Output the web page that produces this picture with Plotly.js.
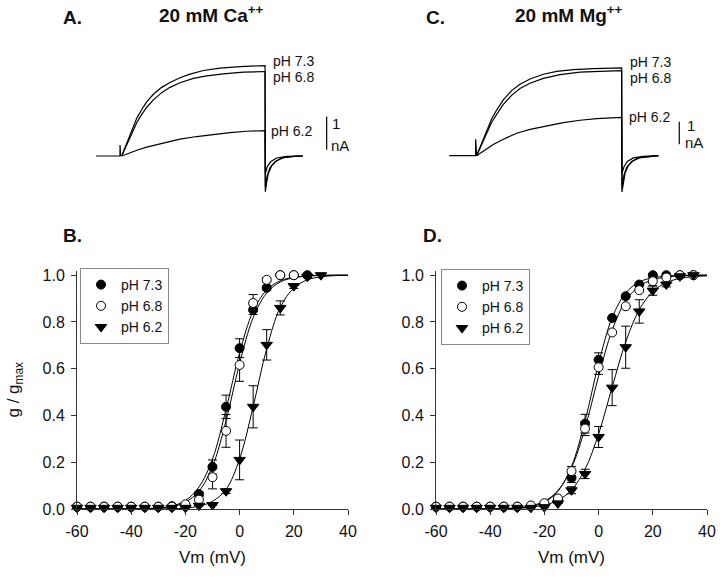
<!DOCTYPE html>
<html>
<head>
<meta charset="utf-8">
<script src="https://cdn.plot.ly/plotly-3.0.1.min.js"></script>
<style>html,body{margin:0;padding:0;background:#fff;}#chart{width:720px;height:578px;}</style>
</head>
<body>
<div id="chart"></div>
<script>
// ---------- Panels B & D: g/gmax vs Vm ----------
const vm = [-60,-55,-50,-45,-40,-35,-30,-25,-20,-15,-10,-5,0,5,10,15,20,25,30,35,40];
const xTickVals = [-60,-40,-20,0,20,40];
const xTickText = ['-60','-40','-20','0','20','40'];
const yTickVals = [0,0.2,0.4,0.6,0.8,1.0];
const yTickText = ['0.0','0.2','0.4','0.6','0.8','1.0'];

// Panel B (20 mM Ca++) data points
const vB73 = [-60,-55,-50,-45,-40,-35,-30,-25,-20,-15,-10,-5,0,5,10,15,20,25];
const gB73 = [0.01,0.01,0.01,0.01,0.01,0.01,0.01,0.012,0.015,0.064,0.18,0.437,0.688,0.852,0.946,1.0,1.0,1.0];
const eB73 = [0,0,0,0,0,0,0,0,0,0.01,0.03,0.05,0.04,0.02,0.01,0,0,0];
const vB68 = [-60,-55,-50,-45,-40,-35,-30,-25,-20,-15,-10,-5,0,5,10,15,20];
const gB68 = [0.01,0.01,0.01,0.01,0.01,0.01,0.01,0.01,0.02,0.04,0.136,0.334,0.616,0.881,0.98,1.0,1.0];
const eB68 = [0,0,0,0,0,0,0,0,0,0.02,0.05,0.07,0.07,0.036,0.01,0,0];
const vB62 = [-60,-55,-50,-45,-40,-35,-30,-25,-20,-15,-10,-5,0,5,10,15,20,25,30];
const gB62 = [0.005,0.005,0.005,0.005,0.005,0.005,0.005,0.005,0.005,0.014,0.017,0.076,0.21,0.437,0.702,0.86,0.953,0.993,1.0];
const eB62 = [0,0,0,0,0,0,0,0,0,0,0,0.01,0.085,0.09,0.065,0.03,0.01,0,0];
// fitted curves
const fB73 = [0,0,0,0,0.001,0.002,0.005,0.013,0.036,0.094,0.214,0.426,0.668,0.846,0.937,0.976,0.991,0.997,0.999,1,1];
const fB68 = [0,0,0,0,0,0.001,0.004,0.011,0.029,0.076,0.182,0.377,0.622,0.818,0.924,0.971,0.989,0.996,0.999,1,1];
const fB62 = [0,0,0,0,0,0,0,0.001,0.004,0.012,0.033,0.084,0.214,0.438,0.686,0.862,0.945,0.98,0.993,0.998,0.999];

// Panel D (20 mM Mg++) data points
const vD73 = [-60,-55,-50,-45,-40,-35,-30,-25,-20,-15,-10,-5,0,5,10,15,20,25,30,35];
const gD73 = [0.01,0.01,0.01,0.01,0.01,0.01,0.01,0.012,0.02,0.043,0.133,0.365,0.638,0.817,0.91,0.96,1.0,1.0,1.0,1.0];
const eD73 = [0,0,0,0,0,0,0,0,0,0,0.02,0.04,0.03,0,0,0,0,0,0,0];
const vD68 = [-60,-55,-50,-45,-40,-35,-30,-25,-20,-15,-10,-5,0,5,10,15,20,25,30,35];
const gD68 = [0.01,0.01,0.01,0.01,0.01,0.01,0.01,0.015,0.025,0.045,0.162,0.344,0.606,0.755,0.867,0.936,0.974,0.99,1.0,1.0];
const eD68 = [0,0,0,0,0,0,0,0,0,0,0.02,0.03,0.03,0,0,0,0.02,0,0,0];
const vD62 = [-60,-55,-50,-45,-40,-35,-30,-25,-20,-15,-10,-5,0,5,10,15,20,25,30,35];
const gD62 = [0.005,0.005,0.005,0.005,0.005,0.005,0.005,0.005,0.008,0.024,0.08,0.15,0.308,0.519,0.692,0.845,0.934,0.96,0.995,1.0];
const eD62 = [0,0,0,0,0,0,0,0,0,0,0.015,0.02,0.045,0.077,0.09,0.05,0.02,0.01,0,0];
// fitted curves
const fD73 = [0,0,0,0,0,0.001,0.004,0.011,0.029,0.076,0.182,0.377,0.622,0.818,0.924,0.971,0.989,0.996,0.999,1,1];
const fD68 = [0,0,0,0,0,0.002,0.006,0.014,0.033,0.079,0.176,0.346,0.568,0.765,0.89,0.953,0.98,0.992,0.997,0.999,1];
const fD62 = [0,0,0,0,0,0.001,0.003,0.007,0.017,0.037,0.082,0.17,0.321,0.521,0.714,0.852,0.93,0.968,0.986,0.994,0.997];

// ---------- Panels A & C: current traces (time in ms, current in nA) ----------
const capA_t = [-17.9,-1.2,-1.15,-0.8,0];
const capA_I = [0,0,0.33,0.03,0];
const a73_t = [0,3.5,7.0,10.5,14.0,17.4,22.1,27.9,33.7,40.7,47.7,57.0,68.6,82.6,100,100.2,101.2,102.3,104.7,108.1,112.8,119.8,126.3];
const a73_I = [0,0.38,0.77,1.14,1.41,1.64,1.87,2.08,2.23,2.37,2.48,2.59,2.66,2.71,2.74,-1.08,-0.78,-0.53,-0.29,-0.14,-0.05,-0.01,0];
const a68_t = [0,3.5,7.0,10.5,14.0,17.4,22.1,27.9,33.7,40.7,50.0,59.3,70.9,84.9,100,100.2,101.6,103.5,107.0,111.6,119.8,126.3];
const a68_I = [0,0.33,0.69,1.01,1.26,1.47,1.70,1.92,2.08,2.22,2.35,2.43,2.49,2.54,2.56,-0.93,-0.58,-0.35,-0.17,-0.06,-0.01,0];
const a62_t = [0,5.8,11.6,17.4,29.1,40.7,52.3,64.0,75.6,87.2,100,100.2,101.6,103.9,108.1,115.1,126.3];
const a62_I = [0,0.10,0.19,0.27,0.40,0.51,0.59,0.66,0.71,0.75,0.77,-0.53,-0.32,-0.17,-0.06,-0.01,0];
const scaleA_t = [143,143];
const scaleA_I = [0.19,1.19];

const capC_t = [-18.9,-0.7,-0.65,-0.3,0];
const capC_I = [0,0,0.72,0.05,0];
const c73_t = [0,3.4,6.9,10.3,13.8,18.4,24.1,29.9,36.8,46.0,55.2,66.7,80.5,100,100.2,101.1,102.3,104.6,108.0,112.6,119.5,125.3];
const c73_I = [0,0.54,1.10,1.62,2.01,2.46,2.87,3.15,3.38,3.59,3.72,3.79,3.84,3.87,-1.60,-1.15,-0.78,-0.44,-0.22,-0.09,-0.03,0];
const c68_t = [0,3.4,6.9,10.3,13.8,18.4,24.1,29.9,36.8,46.0,57.5,71.3,85.1,100,100.2,101.6,103.4,106.9,111.5,119.5,125.3];
const c68_I = [0,0.47,0.99,1.46,1.82,2.26,2.66,2.96,3.19,3.41,3.57,3.68,3.72,3.75,-1.37,-0.85,-0.53,-0.26,-0.10,-0.03,0];
const c62_t = [0,5.7,11.5,18.4,27.6,36.8,48.3,59.8,71.3,82.8,100,100.2,101.6,103.9,108.0,114.9,125.3];
const c62_I = [0,0.25,0.49,0.72,0.99,1.16,1.32,1.46,1.56,1.63,1.69,-0.78,-0.49,-0.26,-0.10,-0.03,0];
const scaleC_t = [139.7,139.7];
const scaleC_I = [0.5,1.5];

const seriesNames = ['pH 7.3','pH 6.8','pH 6.2'];
const FONT = 'Arial, "Liberation Sans", sans-serif';

const traces = [];
function fit(x, y, xa, ya){
  traces.push({x:x, y:y, xaxis:xa, yaxis:ya, mode:'lines', line:{color:'#000', width:1, shape:'spline'}, showlegend:false, hoverinfo:'skip'});
}
function pts(x, y, e, name, sym, fill, xa, ya, leg){
  traces.push({x:x, y:y, xaxis:xa, yaxis:ya, mode:'markers', name:name, legend:leg, cliponaxis:false,
    marker:{symbol:sym, size:(sym==='triangle-down'?10:9), color:fill, line:{color:'#000', width:1}},
    error_y:{type:'data', array:e, visible:true, color:'#000', thickness:1, width:4.5}});
}
// Panel B
fit(vm, fB73, 'x', 'y'); fit(vm, fB68, 'x', 'y'); fit(vm, fB62, 'x', 'y');
pts(vB73, gB73, eB73, seriesNames[0], 'circle', '#000', 'x', 'y', 'legend');
pts(vB68, gB68, eB68, seriesNames[1], 'circle', '#fff', 'x', 'y', 'legend');
pts(vB62, gB62, eB62, seriesNames[2], 'triangle-down', '#000', 'x', 'y', 'legend');
// Panel D
fit(vm, fD73, 'x2', 'y2'); fit(vm, fD68, 'x2', 'y2'); fit(vm, fD62, 'x2', 'y2');
pts(vD73, gD73, eD73, seriesNames[0], 'circle', '#000', 'x2', 'y2', 'legend2');
pts(vD68, gD68, eD68, seriesNames[1], 'circle', '#fff', 'x2', 'y2', 'legend2');
pts(vD62, gD62, eD62, seriesNames[2], 'triangle-down', '#000', 'x2', 'y2', 'legend2');

function tr(x, y, xa, ya){
  traces.push({x:x, y:y, xaxis:xa, yaxis:ya, mode:'lines', line:{color:'#000', width:1.2}, showlegend:false, hoverinfo:'skip'});
}
tr(capA_t, capA_I, 'x3', 'y3');
tr(a73_t, a73_I, 'x3', 'y3'); tr(a68_t, a68_I, 'x3', 'y3'); tr(a62_t, a62_I, 'x3', 'y3');
tr(scaleA_t, scaleA_I, 'x3', 'y3');
tr(capC_t, capC_I, 'x4', 'y4');
tr(c73_t, c73_I, 'x4', 'y4'); tr(c68_t, c68_I, 'x4', 'y4'); tr(c62_t, c62_I, 'x4', 'y4');
tr(scaleC_t, scaleC_I, 'x4', 'y4');

const W = 720, H = 578;
const px = v => v / W;
const py = v => (H - v) / H;

const gAxisX = {
  range:[-60,40], tickvals:xTickVals, ticktext:xTickText, showline:true, linecolor:'#333', linewidth:1,
  ticks:'outside', ticklen:5, tickcolor:'#333', showgrid:false, zeroline:false, ticklabelstandoff:3,
  tickfont:{family:FONT, size:16, color:'#111'},
  title:{text:'Vm (mV)', font:{family:FONT, size:17, color:'#111'}, standoff:11}
};
const gAxisY = {
  range:[0,1.02], tickvals:yTickVals, ticktext:yTickText,
  showline:true, linecolor:'#333', linewidth:1, ticks:'outside', ticklen:5, tickcolor:'#333', ticklabelstandoff:3,
  showgrid:false, zeroline:false, tickfont:{family:FONT, size:16, color:'#111'},
  domain:[py(509), py(270.5)]
};
const hidden = {visible:false, showgrid:false, zeroline:false, fixedrange:true};
const legendBase = {
  xanchor:'left', yanchor:'top', bgcolor:'#fff', bordercolor:'#888', borderwidth:1,
  font:{family:FONT, size:14, color:'#111'}, tracegroupgap:0, itemwidth:30
};
const lblFont = {family:FONT, size:14, color:'#111'};
const sbFont = {family:FONT, size:15, color:'#111'};
const titleFont = {family:FONT, size:19, color:'#111', weight:'bold'};

const layout = {
  width:W, height:H, margin:{l:0, r:0, t:0, b:0},
  paper_bgcolor:'#fff', plot_bgcolor:'#fff', showlegend:true,
  font:{family:FONT, color:'#111'},
  xaxis:Object.assign({}, gAxisX, {domain:[px(77), px(348)], anchor:'y'}),
  yaxis:Object.assign({}, gAxisY, {anchor:'x',
    title:{text:'g / g<sub>max</sub>', font:{family:FONT, size:17, color:'#111'}, standoff:18}}),
  xaxis2:Object.assign({}, gAxisX, {domain:[px(436), px(707)], anchor:'y2'}),
  yaxis2:Object.assign({}, gAxisY, {anchor:'x2'}),
  xaxis3:Object.assign({}, hidden, {domain:[px(90), px(340)], range:[-22.1,152.3], anchor:'y3'}),
  yaxis3:Object.assign({}, hidden, {domain:[py(200), py(40)], range:[-1.333,3.515], anchor:'x3'}),
  xaxis4:Object.assign({}, hidden, {domain:[px(445), px(700)], range:[-21.8,154], anchor:'y4'}),
  yaxis4:Object.assign({}, hidden, {domain:[py(200), py(40)], range:[-1.956,5.10], anchor:'x4'}),
  legend:Object.assign({}, legendBase, {x:px(80), y:py(268)}),
  legend2:Object.assign({}, legendBase, {x:px(441), y:py(269)}),
  annotations:[
    {text:'A.', xref:'paper', yref:'paper', x:px(61), y:py(17), xanchor:'left', yanchor:'middle', showarrow:false, font:titleFont},
    {text:'20 mM Ca<sup>++</sup>', xref:'paper', yref:'paper', x:px(157), y:py(14), xanchor:'left', yanchor:'middle', showarrow:false, font:titleFont},
    {text:'C.', xref:'paper', yref:'paper', x:px(424), y:py(17), xanchor:'left', yanchor:'middle', showarrow:false, font:titleFont},
    {text:'20 mM Mg<sup>++</sup>', xref:'paper', yref:'paper', x:px(513), y:py(14), xanchor:'left', yanchor:'middle', showarrow:false, font:titleFont},
    {text:'B.', xref:'paper', yref:'paper', x:px(61), y:py(235), xanchor:'left', yanchor:'middle', showarrow:false, font:titleFont},
    {text:'D.', xref:'paper', yref:'paper', x:px(421), y:py(235), xanchor:'left', yanchor:'middle', showarrow:false, font:titleFont},
    // trace labels panel A
    {text:'pH 7.3', xref:'x3', yref:'y3', x:103.9, y:2.88, xanchor:'left', yanchor:'middle', showarrow:false, font:lblFont},
    {text:'pH 6.8', xref:'x3', yref:'y3', x:103.9, y:2.38, xanchor:'left', yanchor:'middle', showarrow:false, font:lblFont},
    {text:'pH 6.2', xref:'x3', yref:'y3', x:102.8, y:0.76, xanchor:'left', yanchor:'middle', showarrow:false, font:lblFont},
    {text:'1', xref:'x3', yref:'y3', x:145.4, y:0.97, xanchor:'left', yanchor:'middle', showarrow:false, font:sbFont},
    {text:'nA', xref:'x3', yref:'y3', x:144.7, y:0.33, xanchor:'left', yanchor:'middle', showarrow:false, font:sbFont},
    // trace labels panel C
    {text:'pH 7.3', xref:'x4', yref:'y4', x:104.4, y:4.14, xanchor:'left', yanchor:'middle', showarrow:false, font:lblFont},
    {text:'pH 6.8', xref:'x4', yref:'y4', x:104.4, y:3.41, xanchor:'left', yanchor:'middle', showarrow:false, font:lblFont},
    {text:'pH 6.2', xref:'x4', yref:'y4', x:103.7, y:1.69, xanchor:'left', yanchor:'middle', showarrow:false, font:lblFont},
    {text:'1', xref:'x4', yref:'y4', x:143.7, y:1.35, xanchor:'left', yanchor:'middle', showarrow:false, font:sbFont},
    {text:'nA', xref:'x4', yref:'y4', x:142.3, y:0.56, xanchor:'left', yanchor:'middle', showarrow:false, font:sbFont}
  ]
};

Plotly.newPlot('chart', traces, layout, {displayModeBar:false, staticPlot:true});
</script>
</body>
</html>
